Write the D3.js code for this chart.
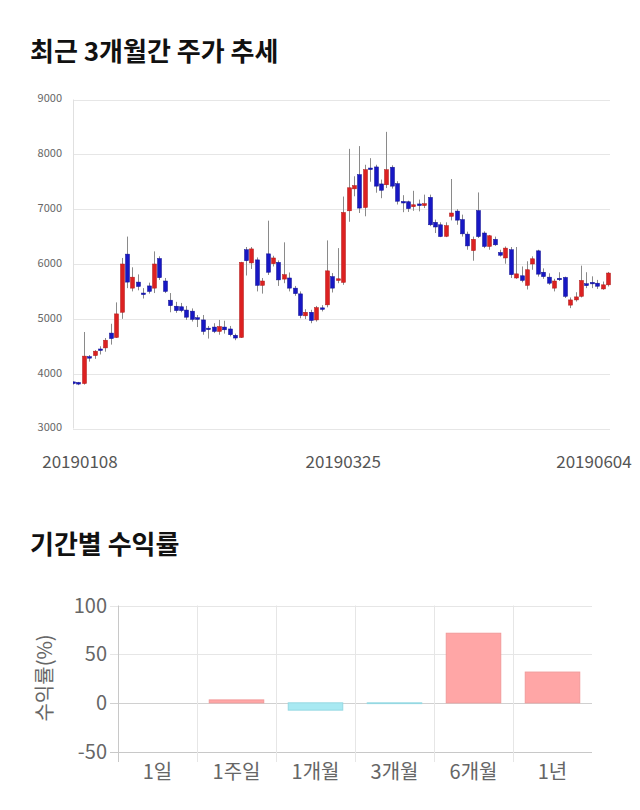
<!DOCTYPE html>
<html>
<head>
<meta charset="utf-8">
<script src="https://cdn.jsdelivr.net/npm/d3@7"></script>
<style>
  body { margin: 0; background: #fff; }
  svg { display: block; }
</style>
</head>
<body>
<div class="chart"></div>
<script>
// candle data (trading days 20190108 ~ 20190604)
var open = [3850,3840,3820,4310,4330,4450,4470,4740,4660,5120,6180,5560,5670,5470,5600,5560,6100,5690,5340,5230,
  5220,5160,5140,5020,4980,4830,4850,4770,4850,4815,4700,4660,6260,6020,6075,5610,6185,6005,6030,5725,
  5745,5560,5455,5055,5120,4980,5200,5255,5770,5700,5665,6970,7370,7630,7030,7750,7770,7460,7445,7765,
  7465,7140,7135,7045,7095,7065,7215,6760,6715,6505,6870,6965,6810,6545,6245,6975,6565,6320,6450,6210,
  6110,6260,5745,5785,5610,6000,6240,5850,5760,5560,5740,5755,5250,5345,5410,5640,5665,5650,5545,5620];
var high = [3860,3850,4760,4340,4430,4500,4650,4910,5300,6110,6500,5940,5810,5560,5660,6230,6140,5745,5470,5310,
  5290,5235,5190,5070,5070,4870,4920,4980,4965,4870,4730,6040,6310,6310,6120,5745,6790,6150,6065,6395,
  5845,5600,5500,5175,5165,5235,5250,6430,5835,6290,7230,8100,7600,8150,7810,7930,7810,7540,8410,7800,
  7510,7255,7155,7335,7175,7265,7265,6810,6760,6760,7550,7000,6900,6590,6500,7305,6595,6530,6500,6260,
  6320,6310,6310,5955,6050,6140,6260,5920,5830,5730,5850,5770,5390,5485,5970,5850,5775,5710,5680,5855];
var low = [3800,3790,3800,4220,4270,4350,4400,4530,4650,5000,5560,5500,5520,5370,5460,5470,5710,5470,5120,5110,
  5120,4980,4950,4850,4710,4640,4740,4710,4730,4680,4610,4650,5790,5910,5500,5460,5800,5955,5600,5650,
  5500,5420,5010,4995,4920,4950,5135,5210,5480,5650,5620,6770,7235,6930,6870,7500,7300,7200,7385,7375,
  7085,6945,6950,6970,6960,7020,6690,6565,6490,6490,6795,6715,6500,6260,6060,6475,6290,6260,6330,6135,
  6005,5745,5730,5665,5535,5895,5770,5730,5620,5500,5690,5380,5195,5315,5390,5560,5560,5545,5530,5590];
var close = [3820,3810,4320,4290,4410,4440,4610,4640,5090,6000,5670,5760,5590,5450,5500,6000,5750,5500,5240,5150,
  5150,5030,4990,4990,4770,4820,4770,4860,4800,4710,4650,6030,6060,6275,5610,5690,5850,6110,5710,5805,
  5560,5460,5060,5120,4970,5205,5190,5875,5560,5730,6940,7390,7430,7020,7720,7730,7420,7345,7720,7420,
  7145,7120,7010,7080,7065,7100,6715,6675,6500,6700,6930,6800,6550,6330,6450,6500,6320,6515,6350,6160,
  6290,5805,5820,5700,5895,6095,5815,5770,5650,5690,5725,5410,5345,5400,5700,5605,5640,5595,5620,5835];

var priceTicks = [3000, 4000, 5000, 6000, 7000, 8000, 9000];
var dateLabels = ["20190108", "20190325", "20190604"];
var dateIndex = [0, 50, 99];

// returns by period
var periods = ["1일", "1주일", "1개월", "3개월", "6개월", "1년"];
var returns = [0, 3, -7.5, -0.8, 71.5, 31.6];
var returnTicks = [-50, 0, 50, 100];

var font = "'Noto Sans CJK KR', 'Noto Sans', sans-serif";

var svg = d3.select(".chart")
  .append("svg")
  .attr("width", 640)
  .attr("height", 810)
  .style("font-family", font);

// ---------- candle chart ----------
svg.append("text")
  .attr("x", 30)
  .attr("y", 61)
  .attr("font-size", 26)
  .attr("font-weight", "bold")
  .attr("fill", "#111")
  .text("최근 3개월간 주가 추세");

var cLeft = 73, cRight = 610;
var xC = d3.scaleLinear().domain([0, open.length - 1]).range([73, 608]);
var yC = d3.scaleLinear().domain([3000, 9000]).range([428.5, 99.5]);

svg.append("g").selectAll("line")
  .data(priceTicks)
  .enter().append("line")
  .attr("x1", cLeft).attr("x2", cRight)
  .attr("y1", function(d) { return Math.round(yC(d)) + 0.5; })
  .attr("y2", function(d) { return Math.round(yC(d)) + 0.5; })
  .attr("stroke", "#e6e6e6");

svg.append("line")
  .attr("x1", cLeft + 0.5).attr("x2", cLeft + 0.5)
  .attr("y1", yC(9000)).attr("y2", yC(3000))
  .attr("stroke", "#e0e0e0");

svg.append("g").selectAll("text")
  .data(priceTicks)
  .enter().append("text")
  .attr("x", 62)
  .attr("y", function(d) { return yC(d) - 1; })
  .attr("dy", "0.35em")
  .attr("text-anchor", "end")
  .attr("font-size", 11)
  .attr("fill", "#666")
  .text(function(d) { return d; });

svg.append("clipPath").attr("id", "clip")
  .append("rect")
  .attr("x", cLeft).attr("y", 90)
  .attr("width", cRight - cLeft + 2).attr("height", 350);

var candles = svg.append("g").attr("clip-path", "url(#clip)");
var idx = d3.range(open.length);

candles.selectAll("line.wick")
  .data(idx)
  .enter().append("line")
  .attr("class", "wick")
  .attr("x1", function(i) { return Math.round(xC(i)) + 0.5; })
  .attr("x2", function(i) { return Math.round(xC(i)) + 0.5; })
  .attr("y1", function(i) { return yC(high[i]); })
  .attr("y2", function(i) { return yC(low[i]); })
  .attr("stroke", "#8a8a8a");

candles.selectAll("rect.body")
  .data(idx)
  .enter().append("rect")
  .attr("class", "body")
  .attr("x", function(i) { return Math.round(xC(i)) - 1.5; })
  .attr("width", 4)
  .attr("y", function(i) { return yC(Math.max(open[i], close[i])); })
  .attr("height", function(i) {
    return Math.max(1.5, Math.abs(yC(open[i]) - yC(close[i])));
  })
  .attr("fill", function(i) { return close[i] >= open[i] ? "#dc2121" : "#1717c4"; })
  .attr("stroke", function(i) { return close[i] >= open[i] ? "#b01818" : "#10108f"; })
  .attr("stroke-width", 0.5);

svg.append("g").selectAll("text")
  .data(dateLabels)
  .enter().append("text")
  .attr("x", function(d, k) { return Math.max(80, Math.min(594, xC(dateIndex[k]))); })
  .attr("y", 468)
  .attr("text-anchor", "middle")
  .attr("font-size", 17)
  .attr("fill", "#555")
  .text(function(d) { return d; });

// ---------- returns bar chart ----------
svg.append("text")
  .attr("x", 30)
  .attr("y", 554)
  .attr("font-size", 26)
  .attr("font-weight", "bold")
  .attr("fill", "#111")
  .text("기간별 수익률");

var xB = d3.scaleBand().domain(periods).range([118, 592]).paddingInner(0.31).paddingOuter(0.155);
var xBand = d3.scaleBand().domain(periods).range([118, 592]);
var yB = d3.scaleLinear().domain([-50, 100]).range([751.5, 605.5]);

svg.append("g").selectAll("line")
  .data(returnTicks)
  .enter().append("line")
  .attr("x1", 110).attr("x2", 592)
  .attr("y1", function(d) { return Math.round(yB(d)) + 0.5; })
  .attr("y2", function(d) { return Math.round(yB(d)) + 0.5; })
  .attr("stroke", function(d) { return d === -50 ? "#c8c8c8" : d === 0 ? "#d0d0d0" : "#e6e6e6"; });

svg.append("g").selectAll("line")
  .data(periods)
  .enter().append("line")
  .attr("x1", function(d) { return Math.round(xBand(d)) + 0.5; })
  .attr("x2", function(d) { return Math.round(xBand(d)) + 0.5; })
  .attr("y1", yB(100)).attr("y2", 762)
  .attr("stroke", function(d, k) { return k === 0 ? "#c8c8c8" : "#e6e6e6"; });

svg.append("g").selectAll("rect")
  .data(returns)
  .enter().append("rect")
  .attr("x", function(d, k) { return xB(periods[k]); })
  .attr("width", xB.bandwidth())
  .attr("y", function(d) { return yB(Math.max(0, d)); })
  .attr("height", function(d) { return Math.abs(yB(d) - yB(0)); })
  .attr("fill", function(d) { return d >= 0 ? "#ffa6a6" : "#a8e9f2"; })
  .attr("stroke", function(d) { return d >= 0 ? "#f29a9a" : "#95d8e2"; })
  .attr("stroke-width", 1);

svg.append("g").selectAll("text")
  .data(returnTicks)
  .enter().append("text")
  .attr("x", 107)
  .attr("y", function(d) { return yB(d); })
  .attr("dy", "0.35em")
  .attr("text-anchor", "end")
  .attr("font-size", 20)
  .attr("fill", "#666")
  .text(function(d) { return d; });

svg.append("g").selectAll("text")
  .data(periods)
  .enter().append("text")
  .attr("x", function(d) { return xBand(d) + xBand.bandwidth() / 2; })
  .attr("y", 779)
  .attr("text-anchor", "middle")
  .attr("font-size", 20)
  .attr("fill", "#666")
  .text(function(d) { return d; });

svg.append("text")
  .attr("transform", "translate(52,678) rotate(-90)")
  .attr("text-anchor", "middle")
  .attr("font-size", 20)
  .attr("fill", "#666")
  .text("수익률(%)");
</script>
</body>
</html>
